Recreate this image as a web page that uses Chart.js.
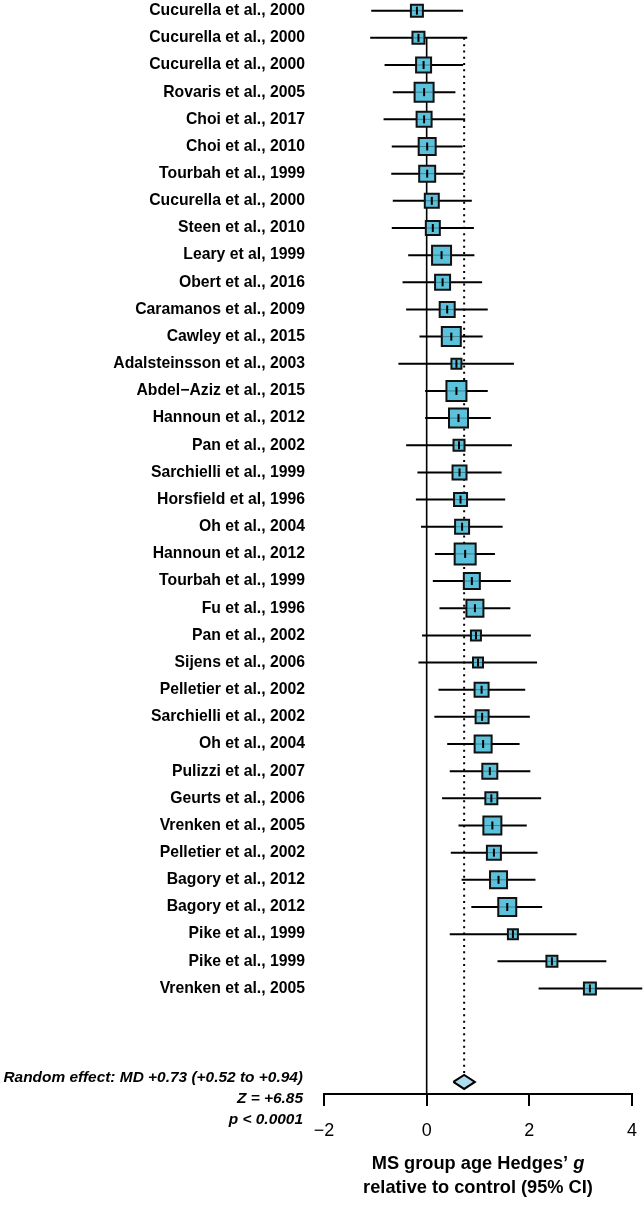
<!DOCTYPE html>
<html>
<head>
<meta charset="utf-8">
<script src="https://cdn.jsdelivr.net/npm/chart.js@4.4.1/dist/chart.umd.min.js"></script>
<style>
  html, body { margin: 0; padding: 0; background: #fff; }
  #forest { display: block; }
</style>
</head>
<body>
<canvas id="forest" width="644" height="1205"></canvas>
<script>
const studies = [
    "Cucurella et al., 2000", "Cucurella et al., 2000", "Cucurella et al., 2000",
    "Rovaris et al., 2005", "Choi et al., 2017", "Choi et al., 2010",
    "Tourbah et al., 1999", "Cucurella et al., 2000", "Steen et al., 2010",
    "Leary et al, 1999", "Obert et al., 2016", "Caramanos et al., 2009",
    "Cawley et al., 2015", "Adalsteinsson et al., 2003", "Abdel\u2212Aziz et al., 2015",
    "Hannoun et al., 2012", "Pan et al., 2002", "Sarchielli et al., 1999",
    "Horsfield et al, 1996", "Oh et al., 2004", "Hannoun et al., 2012",
    "Tourbah et al., 1999", "Fu et al., 1996", "Pan et al., 2002",
    "Sijens et al., 2006", "Pelletier et al., 2002", "Sarchielli et al., 2002",
    "Oh et al., 2004", "Pulizzi et al., 2007", "Geurts et al., 2006",
    "Vrenken et al., 2005", "Pelletier et al., 2002", "Bagory et al., 2012",
    "Bagory et al., 2012", "Pike et al., 1999", "Pike et al., 1999",
    "Vrenken et al., 2005"
];

const hedgesG = [
    -0.19, -0.16, -0.06, -0.05, -0.05, 0.01, 0.01, 0.10, 0.12, 0.29,
    0.31, 0.40, 0.48, 0.58, 0.58, 0.62, 0.63, 0.64, 0.66, 0.69,
    0.75, 0.88, 0.94, 0.96, 1.00, 1.07, 1.08, 1.10, 1.23, 1.26,
    1.28, 1.31, 1.40, 1.57, 1.68, 2.44, 3.18
];

const ciLower = [
    -1.08, -1.10, -0.82, -0.66, -0.84, -0.68, -0.69, -0.66, -0.68, -0.36,
    -0.47, -0.40, -0.14, -0.55, -0.03, -0.03, -0.40, -0.18, -0.21, -0.11,
    0.16, 0.12, 0.25, -0.09, -0.16, 0.23, 0.15, 0.40, 0.45, 0.30,
    0.62, 0.47, 0.68, 0.87, 0.45, 1.38, 2.18
];

const ciUpper = [
    0.71, 0.79, 0.71, 0.56, 0.75, 0.70, 0.72, 0.88, 0.92, 0.93,
    1.08, 1.19, 1.09, 1.70, 1.19, 1.25, 1.66, 1.46, 1.53, 1.48,
    1.33, 1.64, 1.63, 2.03, 2.15, 1.92, 2.01, 1.81, 2.02, 2.23,
    1.95, 2.16, 2.12, 2.25, 2.92, 3.50, 4.20
];

// relative study weight, drawn as box size
const boxWeight = [
    1.4, 1.4, 1.7, 2.1, 1.7, 1.9, 1.8, 1.6, 1.6, 2.1,
    1.7, 1.7, 2.1, 1.2, 2.2, 2.1, 1.3, 1.6, 1.5, 1.6,
    2.3, 1.8, 1.9, 1.2, 1.2, 1.6, 1.5, 1.9, 1.7, 1.4,
    2.0, 1.6, 1.9, 2.0, 1.2, 1.3, 1.4
];

const xTicks = [-2, 0, 2, 4];
const pooledEffect = 0.73;
const pooledCI = [0.52, 0.94];
const summaryLines = [
    "Random effect: MD +0.73 (+0.52 to +0.94)",
    "Z = +6.85",
    "p < 0.0001"
];
const titleLines = ["MS group age Hedges\u2019 ", "g", "relative to control (95% CI)"];

const FAMILY = "'Liberation Sans Narrow', 'Arial Narrow', 'Liberation Sans', Arial, sans-serif";
const BOX = "#5cc2dc";
const DIAMOND = "#aedcee";

// row layout: row i sits at y = i, summary diamond below the last study
const Y_MIN = -0.394;
const Y_MAX = 39.886;
const POOLED_ROW = 39.44;
const DIAMOND_HALF = 0.26;

function fitSize(text, style, target, base) {
    const ctx = document.createElement("canvas").getContext("2d");
    ctx.font = `${style} ${base}px ${FAMILY}`;
    return base * target / ctx.measureText(text).width;
}

const labelSize = fitSize("Cucurella et al., 2000", "bold", 156, 17);
const noteSize = fitSize(summaryLines[0], "italic bold", 300, 17);
const titleSize = fitSize(titleLines[2], "bold", 230, 17);
const tickSize = Math.min(18, fitSize("0", "normal", 10, 17));

const ciSets = studies.map((name, i) => ({
    data: [{ x: ciLower[i], y: i }, { x: ciUpper[i], y: i }],
    showLine: true,
    borderColor: "#000",
    borderWidth: 2,
    pointRadius: 0,
    clip: false,
    order: 40
}));

const points = studies.map((_, i) => ({ x: hedgesG[i], y: i }));
const sides = boxWeight.map(w => w * 10 - 2);

const datasets = [
    // reference line at zero
    {
        data: [{ x: 0, y: 1 }, { x: 0, y: Y_MAX }],
        showLine: true, borderColor: "#000", borderWidth: 1.6,
        pointRadius: 0, order: 60
    },
    // dotted line at pooled effect
    {
        data: [{ x: pooledEffect, y: 1 }, { x: pooledEffect, y: POOLED_ROW - DIAMOND_HALF }],
        showLine: true, borderColor: "#000", borderWidth: 2,
        borderDash: [2, 4.3], pointRadius: 0, order: 60
    },
    ...ciSets,
    {
        data: points,
        showLine: false,
        pointStyle: "rect",
        pointRadius: sides.map(s => s / Math.SQRT2),
        pointHoverRadius: sides.map(s => s / Math.SQRT2),
        pointBackgroundColor: BOX,
        pointBorderColor: "#111",
        pointBorderWidth: 2,
        clip: false,
        order: 30
    },
    // faint CI line showing through the box
    {
        data: points,
        showLine: false,
        pointStyle: "line",
        pointRadius: sides.map(s => s / 2 - 1),
        pointBorderColor: "rgba(0,0,0,0.35)",
        pointBorderWidth: 1,
        clip: false,
        order: 20
    },
    // point estimate tick
    {
        data: points,
        showLine: false,
        pointStyle: "line",
        pointRotation: 90,
        pointRadius: 4,
        pointBorderColor: "#000",
        pointBorderWidth: 2,
        clip: false,
        order: 10
    },
    // pooled estimate diamond
    {
        data: [
            { x: pooledCI[0], y: POOLED_ROW },
            { x: pooledEffect, y: POOLED_ROW - DIAMOND_HALF },
            { x: pooledCI[1], y: POOLED_ROW },
            { x: pooledEffect, y: POOLED_ROW + DIAMOND_HALF },
            { x: pooledCI[0], y: POOLED_ROW }
        ],
        showLine: true,
        tension: 0,
        borderColor: "#000",
        borderWidth: 2,
        backgroundColor: DIAMOND,
        fill: "shape",
        pointRadius: 0,
        order: 5
    }
];

const annotationText = {
    id: "annotationText",
    afterDraw(chart) {
        const { ctx, chartArea } = chart;
        const yScale = chart.scales.y;
        ctx.save();
        ctx.fillStyle = "#000";

        ctx.textAlign = "right";
        ctx.textBaseline = "middle";
        ctx.font = `italic bold ${noteSize}px ${FAMILY}`;
        const top = yScale.getPixelForValue(POOLED_ROW) - 4;
        summaryLines.forEach((t, k) => ctx.fillText(t, 303, top + k * 21));

        // axis title, with italic g
        const cx = (chartArea.left + chartArea.right) / 2;
        const plain = `bold ${titleSize}px ${FAMILY}`;
        const ital = `italic bold ${titleSize}px ${FAMILY}`;
        ctx.textBaseline = "alphabetic";
        ctx.textAlign = "left";
        ctx.font = plain;
        const w1 = ctx.measureText(titleLines[0]).width;
        ctx.font = ital;
        const w2 = ctx.measureText(titleLines[1]).width;
        const x = cx - (w1 + w2) / 2;
        ctx.font = plain;
        ctx.fillText(titleLines[0], x, 1169);
        ctx.font = ital;
        ctx.fillText(titleLines[1], x + w1, 1169);
        ctx.font = plain;
        ctx.textAlign = "center";
        ctx.fillText(titleLines[2], cx, 1193);
        ctx.restore();
    }
};

new Chart(document.getElementById("forest"), {
    type: "scatter",
    data: { datasets },
    options: {
        responsive: false,
        maintainAspectRatio: false,
        animation: false,
        events: [],
        layout: { autoPadding: false, padding: { top: 0, right: 12, bottom: 0, left: 0 } },
        plugins: {
            legend: { display: false },
            tooltip: { enabled: false }
        },
        scales: {
            x: {
                type: "linear",
                min: xTicks[0],
                max: xTicks[xTicks.length - 1],
                afterBuildTicks: scale => { scale.ticks = xTicks.map(v => ({ value: v })); },
                afterFit: scale => {
                    scale.height = 111;
                    scale.paddingLeft = 0;
                    scale.paddingRight = 0;
                },
                ticks: {
                    color: "#000",
                    padding: 14,
                    font: { family: FAMILY, size: tickSize },
                    callback: v => (v < 0 ? "\u2212" + Math.abs(v) : String(v))
                },
                grid: {
                    display: true,
                    drawOnChartArea: false,
                    drawTicks: true,
                    tickLength: 12,
                    color: "#000",
                    lineWidth: 2
                },
                border: { display: true, color: "#000", width: 2 }
            },
            y: {
                type: "linear",
                reverse: true,
                min: Y_MIN,
                max: Y_MAX,
                afterBuildTicks: scale => { scale.ticks = studies.map((_, i) => ({ value: i })); },
                afterFit: scale => {
                    scale.width = 324;
                    scale.paddingTop = 0;
                    scale.paddingBottom = 0;
                },
                ticks: {
                    autoSkip: false,
                    color: "#000",
                    padding: 19,
                    font: { family: FAMILY, size: labelSize, weight: "bold" },
                    callback: v => studies[v]
                },
                grid: { display: false, drawTicks: false },
                border: { display: false }
            }
        }
    },
    plugins: [annotationText]
});
</script>
</body>
</html>
